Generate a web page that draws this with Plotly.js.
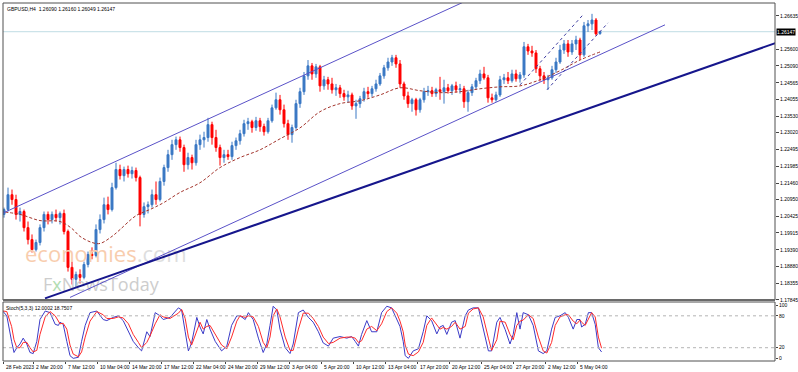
<!DOCTYPE html>
<html><head><meta charset="utf-8">
<script src="https://cdn.plot.ly/plotly-3.0.1.min.js"></script>
<style>html,body{margin:0;padding:0;background:#fff}#chart{width:798px;height:372px}</style>
</head><body><div id="chart"></div>
<script>
// ---- data (GBPUSD, 8-hour candles) ----
const openP = [1.2049,1.2064,1.2110,1.2095,1.2049,1.2058,1.2008,1.1971,1.1940,1.1962,1.2008,1.2049,1.2033,1.2049,1.2039,1.2052,1.1996,1.1885,1.1848,1.1863,1.1854,1.1894,1.1925,1.1922,1.2002,
1.2033,1.2079,1.2064,1.2132,1.2188,1.2169,1.2188,1.2175,1.2185,1.2163,1.2049,1.2073,1.2079,1.2110,1.2095,1.2151,1.2194,1.2234,1.2265,1.2280,1.2256,1.2203,1.2225,1.2209,1.2265,
1.2280,1.2287,1.2327,1.2287,1.2256,1.2225,1.2234,1.2228,1.2262,1.2277,1.2299,1.2330,1.2336,1.2318,1.2339,1.2321,1.2305,1.2339,1.2379,1.2404,1.2373,1.2330,1.2296,1.2318,1.2392,
1.2429,1.2478,1.2509,1.2484,1.2506,1.2447,1.2466,1.2453,1.2435,1.2441,1.2423,1.2413,1.2419,1.2385,1.2392,1.2407,1.2429,1.2423,1.2438,1.2453,1.2478,1.2503,1.2521,1.2534,1.2515,
1.2453,1.2416,1.2392,1.2404,1.2373,1.2404,1.2429,1.2432,1.2423,1.2435,1.2429,1.2441,1.2432,1.2447,1.2435,1.2438,1.2398,1.2426,1.2444,1.2463,1.2484,1.2472,1.2410,1.2404,1.2419,
1.2466,1.2472,1.2463,1.2484,1.2469,1.2481,1.2568,1.2555,1.2549,1.2500,1.2478,1.2466,1.2472,1.2497,1.2521,1.2558,1.2577,1.2552,1.2577,1.2589,1.2543,1.2633,1.2639,1.2651,1.2609];
const highP = [1.2070,1.2132,1.2126,1.2110,1.2070,1.2064,1.2027,1.1987,1.1971,1.2018,1.2058,1.2058,1.2058,1.2064,1.2058,1.2064,1.2002,1.1903,1.1872,1.1879,1.1903,1.1934,1.1947,1.2018,1.2049,
1.2101,1.2104,1.2147,1.2209,1.2203,1.2197,1.2200,1.2197,1.2194,1.2169,1.2086,1.2089,1.2126,1.2151,1.2163,1.2203,1.2249,1.2280,1.2290,1.2290,1.2265,1.2240,1.2234,1.2280,1.2296,
1.2305,1.2348,1.2336,1.2311,1.2265,1.2249,1.2249,1.2274,1.2287,1.2311,1.2342,1.2348,1.2342,1.2351,1.2348,1.2330,1.2348,1.2389,1.2426,1.2419,1.2389,1.2342,1.2327,1.2404,1.2441,
1.2490,1.2527,1.2518,1.2515,1.2512,1.2478,1.2475,1.2472,1.2453,1.2450,1.2435,1.2432,1.2426,1.2404,1.2416,1.2441,1.2444,1.2447,1.2466,1.2487,1.2512,1.2534,1.2543,1.2543,1.2527,
1.2460,1.2429,1.2410,1.2410,1.2410,1.2441,1.2447,1.2444,1.2441,1.2475,1.2466,1.2453,1.2453,1.2460,1.2453,1.2447,1.2435,1.2453,1.2472,1.2497,1.2506,1.2481,1.2423,1.2429,1.2478,
1.2484,1.2490,1.2497,1.2497,1.2490,1.2583,1.2577,1.2571,1.2558,1.2509,1.2490,1.2481,1.2509,1.2534,1.2574,1.2589,1.2589,1.2589,1.2602,1.2596,1.2645,1.2651,1.2670,1.2657,1.2616];
const lowP = [1.2039,1.2058,1.2079,1.2033,1.2027,1.1996,1.1956,1.1931,1.1934,1.1953,1.1996,1.2018,1.2021,1.2027,1.2018,1.1987,1.1872,1.1832,1.1823,1.1835,1.1848,1.1885,1.1910,1.1916,1.1990,
1.2021,1.2049,1.2058,1.2126,1.2157,1.2151,1.2163,1.2160,1.2151,1.2012,1.2039,1.2052,1.2070,1.2079,1.2089,1.2138,1.2181,1.2218,1.2249,1.2243,1.2181,1.2188,1.2188,1.2200,1.2249,
1.2256,1.2274,1.2265,1.2243,1.2200,1.2209,1.2218,1.2218,1.2249,1.2265,1.2290,1.2311,1.2302,1.2308,1.2305,1.2293,1.2299,1.2333,1.2373,1.2358,1.2318,1.2280,1.2271,1.2311,1.2379,
1.2419,1.2466,1.2466,1.2472,1.2429,1.2435,1.2435,1.2423,1.2416,1.2410,1.2401,1.2395,1.2373,1.2345,1.2379,1.2398,1.2410,1.2413,1.2429,1.2447,1.2469,1.2494,1.2509,1.2503,1.2441,
1.2404,1.2379,1.2367,1.2355,1.2364,1.2395,1.2416,1.2413,1.2413,1.2404,1.2392,1.2423,1.2419,1.2426,1.2423,1.2379,1.2367,1.2416,1.2435,1.2453,1.2466,1.2395,1.2395,1.2398,1.2413,
1.2453,1.2453,1.2457,1.2460,1.2457,1.2472,1.2543,1.2537,1.2487,1.2460,1.2453,1.2435,1.2466,1.2487,1.2515,1.2546,1.2537,1.2543,1.2558,1.2527,1.2537,1.2614,1.2620,1.2602,1.2605];
const closeP = [1.2064,1.2110,1.2095,1.2049,1.2058,1.2008,1.1971,1.1940,1.1962,1.2008,1.2049,1.2033,1.2049,1.2039,1.2052,1.1996,1.1885,1.1848,1.1863,1.1854,1.1894,1.1925,1.1922,1.2002,1.2033,
1.2079,1.2064,1.2132,1.2188,1.2169,1.2188,1.2175,1.2185,1.2163,1.2049,1.2073,1.2079,1.2110,1.2095,1.2151,1.2194,1.2234,1.2265,1.2280,1.2256,1.2203,1.2225,1.2209,1.2265,1.2280,
1.2287,1.2327,1.2287,1.2256,1.2225,1.2234,1.2228,1.2262,1.2277,1.2299,1.2330,1.2336,1.2318,1.2339,1.2321,1.2305,1.2339,1.2379,1.2404,1.2373,1.2330,1.2296,1.2318,1.2392,1.2429,
1.2478,1.2509,1.2484,1.2506,1.2447,1.2466,1.2453,1.2435,1.2441,1.2423,1.2413,1.2419,1.2385,1.2392,1.2407,1.2429,1.2423,1.2438,1.2453,1.2478,1.2503,1.2521,1.2534,1.2515,1.2453,
1.2416,1.2392,1.2404,1.2373,1.2404,1.2429,1.2432,1.2423,1.2435,1.2429,1.2441,1.2432,1.2447,1.2435,1.2438,1.2398,1.2426,1.2444,1.2463,1.2484,1.2472,1.2410,1.2404,1.2419,1.2466,
1.2472,1.2463,1.2484,1.2469,1.2481,1.2568,1.2555,1.2549,1.2500,1.2478,1.2466,1.2472,1.2497,1.2521,1.2558,1.2577,1.2552,1.2577,1.2589,1.2543,1.2633,1.2639,1.2651,1.2608,1.26147];
const barIdx = openP.map((_, i) => i);

// moving average (dashed): bar index -> price
const maIdx = [-1,4,9,14,17,19,22,24,27,29,33,37,40,44,49,54,59,64,69,74,79,84,89,94,99,104,109,114,119,124,129,134,139,144,149];
const maVal = [1.2058,1.2049,1.2030,1.2027,1.2005,1.1981,1.1962,1.1959,1.1981,1.2002,1.2045,1.2067,1.2086,1.2117,1.2147,1.2194,1.2225,1.2249,1.2283,1.2317,1.2367,1.2392,1.2401,1.2419,1.2441,1.2432,1.2426,1.2429,1.2438,1.2444,1.2447,1.2466,1.2494,1.2527,1.2552];

// Stochastic (5,3,3): bar index -> %K (blue) and signal (red)
const stIdx = [-1,0.7,1.9,2.5,3.2,4,4.8,5.7,6.5,7.3,8.2,9,10.3,11.5,12.8,13.6,14,14.8,15.7,16.5,17.3,18.6,19.4,20.3,21.5,23.2,24.8,25.7,27.3,28.6,29.8,31.1,32.3,33.6,34.4,35.7,36.5,37.8,39,39.8,41.5,43.6,44.4,45.3,46.1,46.9,48.2,49,49.8,50.7,51.5,52.8,54.4,55.7,56.9,58.2,59,60.3,61.1,62.3,63.6,64.8,65.7,66.5,67.3,68.2,69,70.3,71.5,72.3,73.6,74.8,76.1,77.3,78.6,79.8,81.1,82.3,84,85.7,86.9,87.8,88.6,89.4,90.7,91.9,93.2,94.4,95.7,96.9,98.2,99,99.8,100.3,101.1,102.3,103.6,104.8,105.7,106.9,108.2,109,109.8,110.7,111.9,112.8,114,115.3,116.1,117.3,118.6,119.8,121.1,121.9,123.2,124,125.3,126.5,127.3,128.2,129,129.8,131.1,132.3,133.6,134.8,135.7,136.9,137.8,139,140.3,141.1,142.3,143.2,144,144.4,145.3,146.1,146.9,147.8,148.6,149.4];
const stMain = [95,80,32,11,20,27,38,27,11,9,32,73,89,86,64,62,68,64,32,5,0,2,32,62,86,89,73,71,77,80,71,50,32,20,14,50,41,86,80,73,77,95,91,50,14,29,77,59,46,73,55,32,14,23,62,80,80,73,86,73,38,11,27,62,98,91,55,20,9,27,86,91,77,68,50,29,23,38,41,38,41,32,23,45,71,50,50,86,98,95,73,60,32,5,0,14,18,50,80,71,46,59,62,45,68,71,38,80,91,95,95,55,14,14,68,77,54,27,45,86,55,86,82,62,14,9,14,55,77,80,86,77,55,73,73,59,64,86,86,64,20,12];
const stSignal = [90,88,60,35,20,20,30,30,20,12,15,45,78,88,80,68,65,66,55,25,8,3,12,40,70,88,82,75,75,78,76,65,45,30,20,30,42,65,82,78,75,85,92,75,40,25,50,68,55,60,62,45,25,18,40,70,80,77,80,78,60,30,20,40,80,93,78,40,15,15,55,85,85,75,60,40,28,30,38,40,40,38,30,33,55,60,52,65,88,95,85,70,50,25,8,5,12,30,62,76,62,55,58,55,60,68,55,60,85,93,95,78,38,15,35,70,68,45,35,62,70,72,82,75,40,14,10,30,62,78,82,82,70,65,72,68,62,75,86,78,40,19];

const priceTicks = [1.26635,1.25600,1.25090,1.24565,1.24055,1.23530,1.23020,1.22495,1.21985,1.21460,1.20950,1.20425,1.19915,1.19390,1.18880,1.18355,1.17845];
const timeTickIdx = [-0.25,7.25,15.25,23.25,31.25,39.25,47.25,55.25,63.25,71.25,79.25,87.25,95.25,103.25,111.25,119.25,127.25,135.25,143.25];
const timeLabels = ["28 Feb 2023","2 Mar 20:00","7 Mar 12:00","10 Mar 04:00","14 Mar 20:00","17 Mar 12:00","22 Mar 04:00","24 Mar 20:00","29 Mar 12:00","3 Apr 04:00","5 Apr 20:00","10 Apr 12:00","13 Apr 04:00","17 Apr 20:00","20 Apr 12:00","25 Apr 04:00","27 Apr 20:00","2 May 12:00","5 May 04:00"];
const lastPrice = 1.26147;
const header = "GBPUSD,H4  1.26090 1.26160 1.26049 1.26147";
const stochHeader = "Stoch(5,3,3) 12.0002 18.7507";

// drawn objects (bar index, price)
const upperChannel = [[-1,1.2049],[115.5,1.2710]];
const lowerChannel = [[16.5,1.1792],[165.25,1.2636]];
const trendLine = [[10.25,1.1789],[199,1.2606]];
const miniChanA = [[129,1.2450],[144.75,1.2667]];
const miniChanB = [[135.75,1.2435],[151,1.2642]];

// ---- traces ----
const SM = "Liberation Sans, Arial, sans-serif";
const traces = [
  {type:'scatter', mode:'text', x:[5.25], y:[1.1919], xaxis:'x', yaxis:'y',
   text:['<span style="color:#F8CDAE">economies</span>.com'], textposition:'middle right',
   textfont:{family:'Open Sans', size:22, color:'#DEDEDE'}, hoverinfo:'skip', cliponaxis:false},
  {type:'scatter', mode:'text', x:[9.75], y:[1.1826], xaxis:'x', yaxis:'y',
   text:['F<span style="color:#B2DDB2">x</span>NewsToday'], textposition:'middle right',
   textfont:{family:'Open Sans', size:18, color:'#CDCDCD'}, hoverinfo:'skip', cliponaxis:false},
  {type:'scatter', mode:'lines', x:maIdx, y:maVal, xaxis:'x', yaxis:'y',
   line:{color:'#A3342C', width:1, dash:'3px,2px', shape:'spline'}, hoverinfo:'skip'},
  {type:'candlestick', x:barIdx, open:openP, high:highP, low:lowP, close:closeP, xaxis:'x', yaxis:'y',
   increasing:{line:{color:'#3A78C4', width:1}, fillcolor:'#3A78C4'},
   decreasing:{line:{color:'#FF0000', width:1}, fillcolor:'#FF0000'},
   whiskerwidth:0, hoverinfo:'skip'},
  {type:'scatter', mode:'lines', x:stIdx, y:stMain, xaxis:'x2', yaxis:'y2',
   line:{color:'#3C3CC8', width:1}, hoverinfo:'skip'},
  {type:'scatter', mode:'lines', x:stIdx, y:stSignal, xaxis:'x2', yaxis:'y2',
   line:{color:'#FF2A2A', width:1}, hoverinfo:'skip'}
];

function seg(p, color, width, dash){
  return {type:'line', xref:'x', yref:'y', x0:p[0][0], y0:p[0][1], x1:p[1][0], y1:p[1][1],
    line:{color:color, width:width, dash:dash||'solid'}};
}
const mainBottom = 0.1704, stochTop = 0.1648;
const shapes = [
  {type:'line', xref:'paper', yref:'y', x0:0, x1:1, y0:lastPrice, y1:lastPrice, line:{color:'#BFDCE4', width:1}, layer:'below'},
  seg(upperChannel, '#5A52C8', 1),
  seg(lowerChannel, '#5A52C8', 1),
  seg(trendLine, '#16168C', 2),
  seg(miniChanA, '#3C3CA0', 1, '3px,3px'),
  seg(miniChanB, '#3C3CA0', 1, '3px,3px'),
  {type:'line', xref:'paper', yref:'y2', x0:0, x1:1, y0:80, y1:80, line:{color:'#B4B4B4', width:1, dash:'dot'}},
  {type:'line', xref:'paper', yref:'y2', x0:0, x1:1, y0:20, y1:20, line:{color:'#B4B4B4', width:1, dash:'dot'}},
  {type:'rect', xref:'paper', yref:'paper', x0:0, x1:1, y0:mainBottom, y1:1, line:{color:'#505050', width:1}},
  {type:'line', xref:'paper', yref:'paper', x0:0, x1:1, y0:mainBottom, y1:mainBottom, line:{color:'#6A6A6A', width:2}},
  {type:'rect', xref:'paper', yref:'paper', x0:0, x1:1, y0:0, y1:stochTop, line:{color:'#505050', width:1}}
];

const annotations = [
  {xref:'paper', yref:'paper', x:0, y:1, xanchor:'left', yanchor:'top', xshift:2, yshift:-1, showarrow:false,
   text:header, font:{family:SM, size:5, color:'#000'}},
  {xref:'paper', yref:'paper', x:0, y:stochTop, xanchor:'left', yanchor:'top', xshift:1, yshift:-1, showarrow:false,
   text:stochHeader, font:{family:SM, size:5, color:'#000'}},
  {xref:'paper', yref:'y', x:1, y:lastPrice, xanchor:'left', yanchor:'middle', xshift:1, showarrow:false,
   text:lastPrice.toFixed(5), bgcolor:'#000', borderpad:0, font:{family:SM, size:5, color:'#fff'}}
];
timeTickIdx.forEach((t, k) => annotations.push({
  xref:'x2', yref:'paper', x:t, y:0, xanchor:'left', yanchor:'top', xshift:1, yshift:-1, showarrow:false,
  text:timeLabels[k], font:{family:SM, size:5, color:'#000'}
}));

const xr = [-0.25, 192.75];
const layout = {
  width:798, height:372, margin:{l:3, r:23, t:3, b:11},
  paper_bgcolor:'#fff', plot_bgcolor:'#fff', showlegend:false,
  xaxis:{domain:[0,1], range:xr, anchor:'y', showticklabels:false, ticks:'', showgrid:false, zeroline:false,
         rangeslider:{visible:false}, fixedrange:true},
  yaxis:{domain:[mainBottom,1], range:[1.1784,1.27036], side:'right', anchor:'x', tickvals:priceTicks, tickformat:'.5f',
         ticks:'outside', ticklen:3, tickcolor:'#444', showgrid:false, zeroline:false,
         tickfont:{family:SM, size:5, color:'#000'}, fixedrange:true},
  xaxis2:{domain:[0,1], range:xr, anchor:'y2', tickvals:timeTickIdx, showticklabels:false,
          ticks:'outside', ticklen:2, tickcolor:'#444', showgrid:false, zeroline:false, fixedrange:true},
  yaxis2:{domain:[0,stochTop], range:[-5,106], side:'right', anchor:'x2', tickvals:[0,20,80,100],
          ticks:'outside', ticklen:2, tickcolor:'#444', showgrid:false, zeroline:false,
          tickfont:{family:SM, size:5, color:'#000'}, fixedrange:true},
  shapes:shapes, annotations:annotations
};

Plotly.newPlot('chart', traces, layout, {staticPlot:true, displayModeBar:false});
</script>
</body></html>
